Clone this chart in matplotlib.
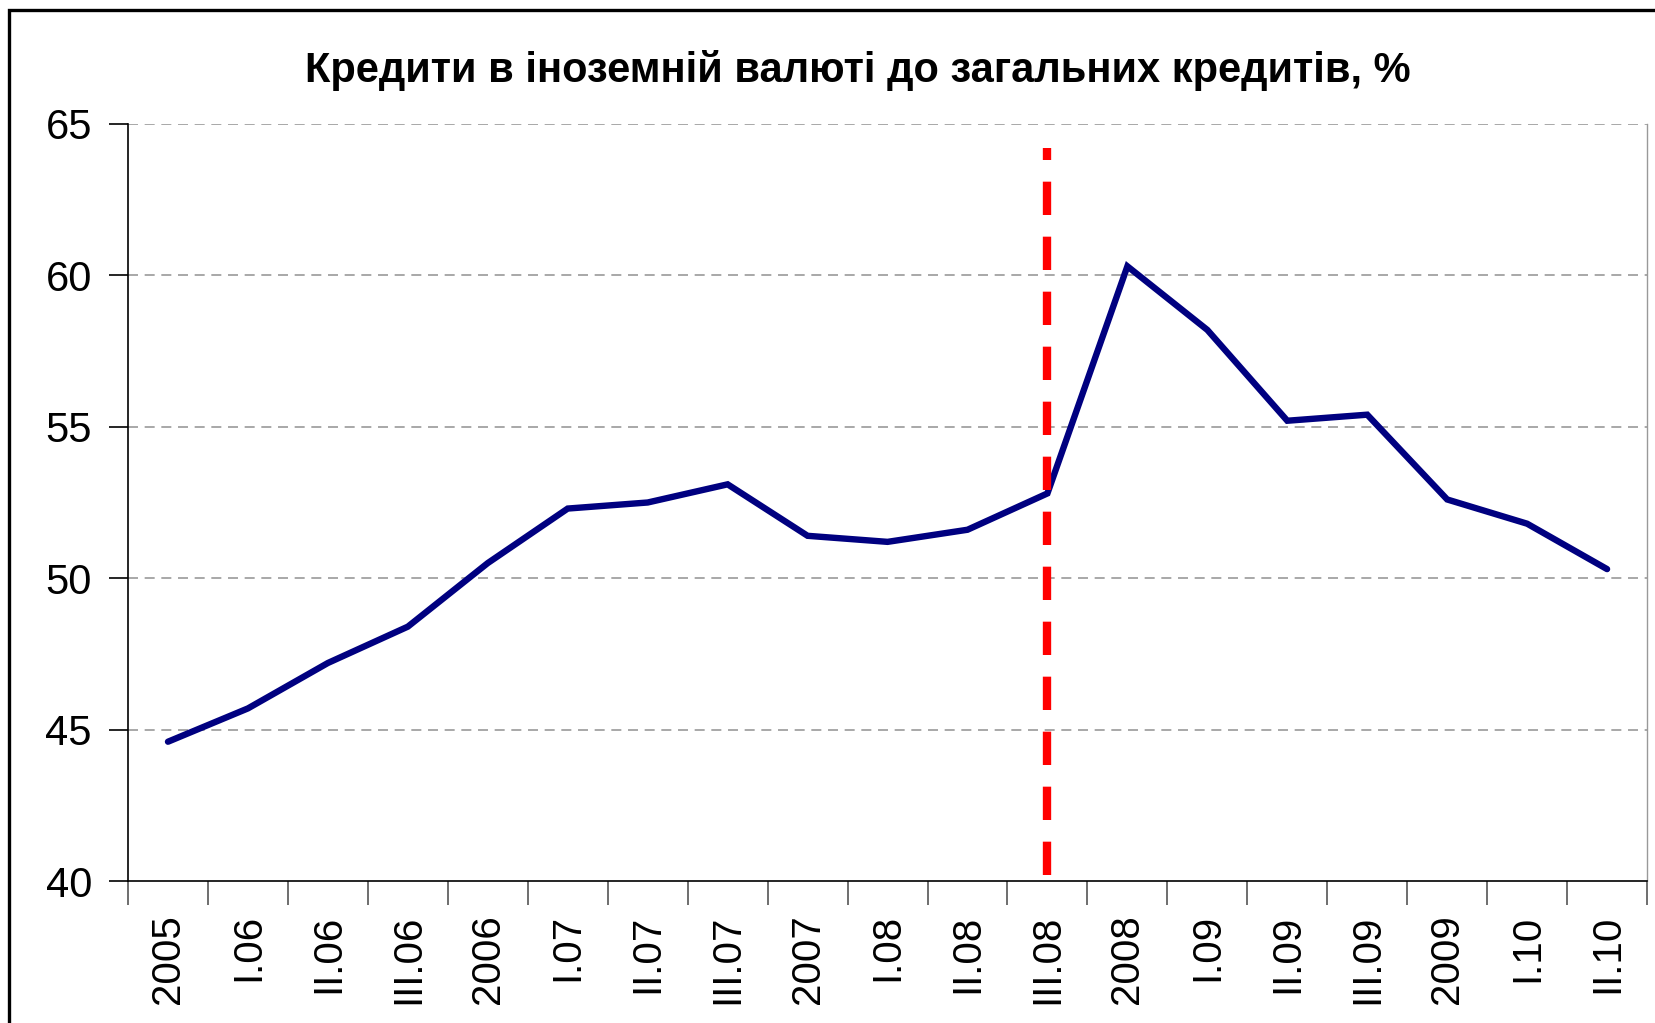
import matplotlib
matplotlib.use("Agg")
import matplotlib.pyplot as plt
from matplotlib.patches import Rectangle

plt.rcParams['font.family'] = ['Liberation Sans', 'DejaVu Sans']

# data
labels = ['2005', 'I.06', 'II.06', 'III.06', '2006', 'I.07', 'II.07', 'III.07', '2007',
          'I.08', 'II.08', 'III.08', '2008', 'I.09', 'II.09', 'III.09', '2009', 'I.10', 'II.10']
values = [44.6, 45.7, 47.2, 48.4, 50.5, 52.3, 52.5, 53.1, 51.4,
          51.2, 51.6, 52.8, 60.3, 58.2, 55.2, 55.4, 52.6, 51.8, 50.3]
crisis_label = 'III.08'
crisis_span = (40.2, 64.2)
title = 'Кредити в іноземній валюті до загальних кредитів, %'

fig = plt.figure(figsize=(16.56, 10.23), dpi=100)
ax = fig.add_axes([0.0773, 0.1388, 0.9173, 0.74])

x = list(range(len(labels)))
ax.plot(x, values, color='#000080', linewidth=4.6, solid_joinstyle='miter',
        solid_capstyle='round', zorder=3)

# red dashed marker of the crisis quarter
xc = labels.index(crisis_label)
ax.plot([xc, xc], crisis_span, color='#ff0000', linewidth=6,
        dashes=(4.0, 2.6), dash_capstyle='butt', zorder=4)

ax.set_xlim(-0.5, len(labels) - 0.5)
ax.set_ylim(40, 65)
ax.set_yticks([40, 45, 50, 55, 60, 65])
ax.tick_params(axis='y', labelsize=30, length=14, width=1.2, pad=12, colors='black')

ax.set_xticks(x)
ax.set_xticklabels(labels, rotation=90, fontsize=29)
ax.tick_params(axis='x', which='major', length=0, pad=24)
ax.set_xticks([i - 0.5 for i in range(len(labels) + 1)], minor=True)
ax.tick_params(axis='x', which='minor', length=17, width=1.2, color='#555555')

for v in [45, 50, 55, 60, 65]:
    ax.axhline(v, color='#999999', linewidth=1.2, linestyle=(0, (6, 4)), zorder=1)

ax.spines['top'].set_visible(False)
ax.spines['right'].set_color('#999999')
ax.spines['right'].set_linewidth(1.0)
ax.spines['left'].set_linewidth(1.2)
ax.spines['bottom'].set_linewidth(1.2)

fig.text(0.518, 0.931, title, ha='center', va='center', fontsize=30, fontweight='bold')

# outer frame, cut by the right and bottom edges
frame = Rectangle((8.5 / 1656, -0.1), 1.2, 1 - 10.5 / 1023 + 0.1,
                  transform=fig.transFigure, fill=False, edgecolor='black', linewidth=2.4)
fig.add_artist(frame)

fig.savefig('out.png', dpi=100)
